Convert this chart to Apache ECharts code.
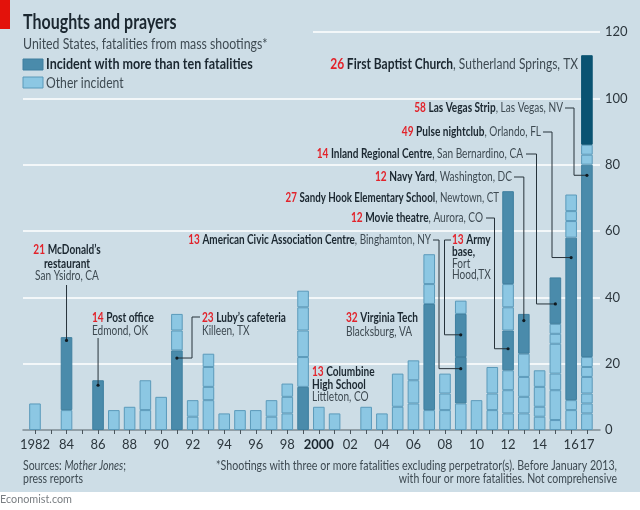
<!DOCTYPE html>
<html><head><meta charset="utf-8">
<script src="https://cdn.jsdelivr.net/npm/echarts@6/dist/echarts.min.js"></script>
<style>html,body{margin:0;padding:0;background:#fff}#c{width:640px;height:510px;background:linear-gradient(#cddde6 492px,#fff 492px)}</style>
</head><body><div id="c"></div>
<script>
const years=['1982','1983','1984','1985','1986','1987','1988','1989','1990','1991','1992','1993','1994','1995','1996','1997','1998','1999','2000','2001','2002','2003','2004','2005','2006','2007','2008','2009','2010','2011','2012','2013','2014','2015','2016','2017'];
const yearLabels=['1982','','84','','86','','88','','90','','92','','94','','96','','98','','{b|2000}','','02','','04','','06','','08','','10','','12','','14','','16','17'];
const segmentValues=[[8],[],[6,22],[],[15],[6],[7],[6,9],[10],[24,6,5],[4,5],[9,4,6,4],[5],[6],[6],[4,5],[5,5,4],[13,9,8,7,5],[7],[5],[],[7],[5],[7,10],[8,7,6],[6,32,6,9],[6,5,6],[8,14,13,4],[9],[6,5,8],[5,7,6,12,7,7,28],[5,5,6,7,12],[4,3,6,5],[3,9,5,9,3,3,14],[6,3,49,5,3,5],[5,3,3,5,3,3,58,3,3,27]];
const segmentKinds=['L','','LD','','D','L','L','LL','L','DLL','LL','LLLL','L','L','L','LL','LLL','DLLLL','L','L','','L','L','LL','LLL','LDLL','LLL','LDDL','L','LLL','LLLDLLD','LLLLD','LLLL','LLLLLLD','LLDLLL','LLLLLLDLLV'];
const legendTitles=['Incident with more than ten fatalities','Other incident'];
const F='Lato,sans-serif';
const colors={L:'#8cc7e3',D:'#4a8bab',V:'#0a5372'};
const borders={L:'#5b9aba',D:'#3f7f9f',V:'#0a5372'};
const INK='#1b2730',SOFT='#3e4a52',RED='#e2232b';
const richBase={n:{fill:RED,fontWeight:'bold',fontFamily:F,fontSize:13},b:{fill:INK,fontWeight:'bold',fontFamily:F,fontSize:13},l:{fill:SOFT,fontFamily:F,fontSize:13}};
const topRich={n:{fill:RED,fontWeight:'bold',fontFamily:F,fontSize:14.5},b:{fill:INK,fontWeight:'bold',fontFamily:F,fontSize:14.5},l:{fill:SOFT,fontFamily:F,fontSize:14.5}};
const notes=[
 {t:'{n|26} {b|First Baptist Church}{l|, Sutherland Springs, TX}',x:578,y:64,a:'right',top:1},
 {t:'{n|58} {b|Las Vegas Strip}{l|, Las Vegas, NV}',x:563,y:108,a:'right'},
 {t:'{n|49} {b|Pulse nightclub}{l|, Orlando, FL}',x:541,y:132,a:'right'},
 {t:'{n|14} {b|Inland Regional Centre}{l|, San Bernardino, CA}',x:523,y:154,a:'right'},
 {t:'{n|12} {b|Navy Yard}{l|, Washington, DC}',x:512,y:177,a:'right'},
 {t:'{n|27} {b|Sandy Hook Elementary School}{l|, Newtown, CT}',x:499,y:198,a:'right',s:.75},
 {t:'{n|12} {b|Movie theatre}{l|, Aurora, CO}',x:483,y:218,a:'right'},
 {t:'{n|13} {b|American Civic Association Centre}{l|, Binghamton, NY}',x:431,y:240,a:'right',s:.765},
 {t:'{n|13} {b|Army}',x:452,y:240,a:'left'},{t:'{b|base,}',x:452,y:252,a:'left'},{t:'{l|Fort}',x:452,y:264,a:'left'},{t:'{l|Hood,TX}',x:452,y:275,a:'left'},
 {t:'{n|32} {b|Virginia Tech}',x:346,y:318,a:'left'},{t:'{l|Blacksburg, VA}',x:346,y:332,a:'left'},
 {t:'{n|13} {b|Columbine}',x:312,y:372,a:'left'},{t:'{b|High School}',x:312,y:385,a:'left'},{t:'{l|Littleton, CO}',x:312,y:397,a:'left'},
 {t:'{n|21} {b|McDonald’s}',x:67,y:250,a:'center'},{t:'{b|restaurant}',x:67,y:264,a:'center'},{t:'{l|San Ysidro, CA}',x:67,y:276,a:'center'},
 {t:'{n|14} {b|Post office}',x:92,y:318,a:'left'},{t:'{l|Edmond, OK}',x:92,y:331,a:'left'},
 {t:'{n|23} {b|Luby’s cafeteria}',x:202,y:318,a:'left'},{t:'{l|Killeen, TX}',x:202,y:331,a:'left'}
];
const leaders=[
 {year:'2017',value:76.8,sx:565,sy:108,ex:574},
 {year:'2016',value:52,sx:543,sy:132,ex:552},
 {year:'2015',value:38,sx:526,sy:154,ex:536.5},
 {year:'2013',value:33,sx:514,sy:177,ex:null},
 {year:'2012',value:24.5,sx:486,sy:218,ex:494.5},
 {year:'2009',value:18.5,sx:433,sy:240,ex:439},
 {year:'2009',value:28.7,sx:451,sy:240,ex:444.5},
 {year:'1991',value:21.7,sx:200,sy:317,ex:192},
 {year:'1984',value:27,sx:null,sy:285,ex:null},
 {year:'1986',value:13.5,sx:null,sy:338,ex:null}
];
const maxLevels=Math.max(...segmentValues.map(s=>s.length));
const series=[];
for(let lv=0;lv<maxLevels;lv++){
 series.push({type:'bar',stack:'all',barWidth:11.6,xAxisIndex:0,yAxisIndex:0,silent:true,
  data:segmentValues.map((s,i)=>{
   if(s[lv]==null)return {value:null};
   const k=segmentKinds[i][lv];
   return {value:s[lv],itemStyle:{color:colors[k],borderColor:borders[k],borderWidth:1}};
  })});
}
const chart=echarts.init(document.getElementById('c'),null,{renderer:'canvas'});
chart.setOption({animation:false,backgroundColor:'transparent',
 grid:[{left:27.1,right:45.2,top:32,bottom:80},{left:23,right:40,top:32,bottom:80}],
 xAxis:[
  {type:'category',gridIndex:0,data:years,boundaryGap:true,axisLine:{show:false},
   axisTick:{show:true,alignWithLabel:true,interval:0,length:4,lineStyle:{color:'#4a555c',width:1}},
   axisLabel:{interval:0,margin:8,hideOverlap:false,fontFamily:F,fontSize:13,color:'#2c363d',
    formatter:(v,i)=>yearLabels[i],rich:{b:{fontFamily:F,fontSize:13,fontWeight:'bold',color:INK}}}},
  {type:'value',gridIndex:1,min:0,max:1,axisLine:{show:true,onZero:false,lineStyle:{color:'#7d8a92',width:1.5}},axisTick:{show:false},axisLabel:{show:false},splitLine:{show:false}}
 ],
 yAxis:[
  {type:'value',gridIndex:0,min:0,max:120,show:false},
  {type:'value',gridIndex:1,min:0,max:120,interval:20,position:'right',axisLine:{show:false},axisTick:{show:false},
   axisLabel:{margin:5,fontFamily:F,fontSize:13,color:'#2c363d'},
   splitLine:{show:true,showMinLine:false,showMaxLine:false,lineStyle:{color:'#fff',width:1.5}}}
 ],
 series});
const g=[];
const Z=100;
const T=(text,x,y,sx,o)=>g.push({type:'text',x,y,scaleX:sx,z:Z,silent:true,style:Object.assign({text,fontFamily:F,fontSize:13,fill:SOFT,align:'left',verticalAlign:'middle'},o||{})});
g.push({type:'rect',shape:{x:0,y:0,width:10,height:29},style:{fill:'#e3120b'},z:Z});
T('Thoughts and prayers',23,23,.8,{fontSize:20,fontWeight:'bold',fill:INK});
T('United States, fatalities from mass shootings*',23,44,.85,{fontSize:14.5,fill:SOFT});
g.push({type:'rect',shape:{x:23,y:59,width:20,height:11},style:{fill:colors.D,stroke:borders.D,lineWidth:1},z:Z});
g.push({type:'rect',shape:{x:23,y:77,width:20,height:11},style:{fill:colors.L,stroke:borders.L,lineWidth:1},z:Z});
T(legendTitles[0],46,64,.866,{fontSize:14.5,fontWeight:'bold',fill:INK});
T(legendTitles[1],46,83,.84,{fontSize:14.5,fill:SOFT});
T('{a|Sources: }{i|Mother Jones}{a|;}',23,466,.84,{rich:{a:{fontFamily:F,fontSize:12.5,fill:SOFT},i:{fontFamily:F,fontSize:12.5,fill:SOFT,fontStyle:'italic'}}});
T('press reports',23,479,.84,{fontSize:12.5});
T('*Shootings with three or more fatalities excluding perpetrator(s). Before January 2013,',617,466,.85,{fontSize:12.5,align:'right'});
T('with four or more fatalities. Not comprehensive',617,479,.84,{fontSize:12.5,align:'right'});
T('Economist.com',0,499,.9,{fontSize:12,fill:'#7a7f83'});
notes.forEach(n=>T(n.t,n.x,n.y,n.s||(n.top?.827:.775),{align:n.a,rich:n.top?topRich:richBase}));
const y120=chart.convertToPixel({yAxisIndex:1},120);
g.push({type:'line',shape:{x1:313,y1:y120,x2:600,y2:y120},style:{stroke:'#fff',lineWidth:1.5},z:1});
leaders.forEach(l=>{
 const p=chart.convertToPixel({xAxisIndex:0,yAxisIndex:0},[l.year,l.value]);
 let pts;
 if(l.sx==null) pts=[[p[0],l.sy],p];
 else if(l.ex==null) pts=[[l.sx,l.sy],[p[0],l.sy],p];
 else pts=[[l.sx,l.sy],[l.ex,l.sy],[l.ex,p[1]],p];
 g.push({type:'polyline',shape:{points:pts},style:{stroke:'#26323a',lineWidth:1,fill:null},z:Z,silent:true});
 g.push({type:'circle',shape:{cx:p[0],cy:p[1],r:1.6},style:{fill:'#101a20'},z:Z,silent:true});
});
chart.setOption({graphic:{elements:g}});
</script></body></html>
